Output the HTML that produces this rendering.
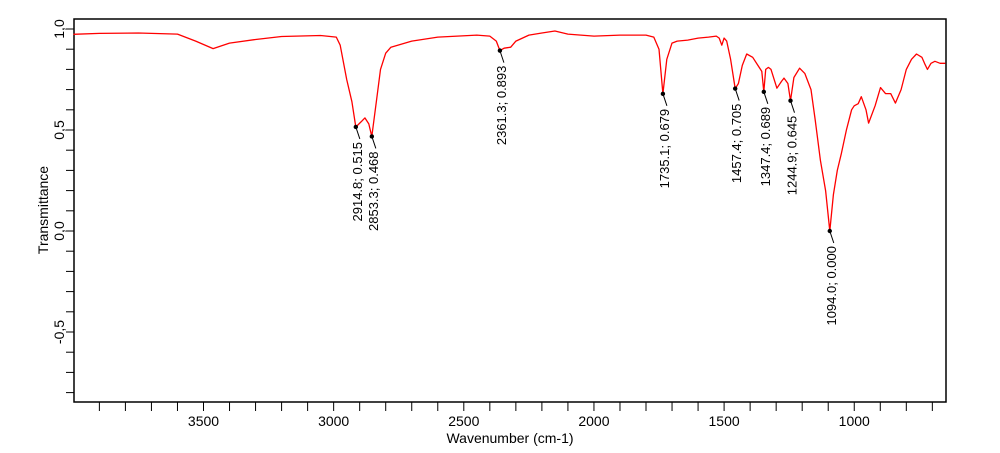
<!DOCTYPE html>
<html><head><meta charset="utf-8"><style>
body{margin:0;background:#fff}
svg{display:block;font-family:"Liberation Sans",sans-serif}
</style></head><body>
<svg id="c" width="1000" height="453"></svg>
<script>
const wavenumbers=[4000,3900,3750,3600,3530,3463,3400,3300,3200,3050,2990,2975,2950,2930,2914.8,2895,2880,2865,2853.3,2835,2820,2800,2780,2700,2600,2450,2400,2375,2361.3,2345,2320,2300,2250,2200,2150,2100,2000,1900,1800,1770,1750,1735.1,1720,1700,1680,1640,1600,1560,1530,1519,1509,1500,1490,1475,1457.4,1445,1430,1413,1390,1370,1355,1347.4,1340,1330,1320,1297,1280,1270,1255,1244.9,1232,1210,1190,1166,1150,1130,1110,1094.0,1080,1065,1050,1030,1010,1000,985,973,955,945,920,899,880,860,842,820,800,780,761,740,730,719,705,690,670,650];
const transmittance=[0.974,0.978,0.98,0.975,0.94,0.903,0.93,0.948,0.963,0.968,0.96,0.92,0.75,0.64,0.515,0.54,0.56,0.53,0.468,0.65,0.8,0.88,0.91,0.94,0.96,0.97,0.965,0.94,0.893,0.905,0.91,0.94,0.97,0.98,0.99,0.975,0.965,0.97,0.97,0.96,0.9,0.679,0.85,0.93,0.94,0.945,0.955,0.96,0.965,0.955,0.92,0.955,0.94,0.85,0.705,0.73,0.82,0.876,0.86,0.82,0.79,0.689,0.8,0.81,0.8,0.707,0.74,0.757,0.73,0.645,0.76,0.806,0.78,0.70,0.55,0.35,0.2,0.0,0.18,0.3,0.38,0.5,0.6,0.62,0.63,0.665,0.6,0.534,0.62,0.71,0.68,0.68,0.633,0.7,0.8,0.85,0.876,0.86,0.83,0.80,0.83,0.84,0.83,0.83];
const peakWn=[2914.8,2853.3,2361.3,1735.1,1457.4,1347.4,1244.9,1094.0];
const peakT=[0.515,0.468,0.893,0.679,0.705,0.689,0.645,0.000];
const yTickLabels=["1,0","0,5","0,0","-0,5"];
const yTickValues=[1,0.5,0,-0.5];
const xTickValues=[3500,3000,2500,2000,1500,1000];

const L=74,R=946,T=19,B=402;
const X=w=>203.5+(3500-w)*0.2603;
const Y=v=>231-202*v;
const svg=document.getElementById('c');
const NS='http://www.w3.org/2000/svg';
function mk(tag,attrs,parent){const e=document.createElementNS(NS,tag);for(const k in attrs)e.setAttribute(k,attrs[k]);(parent||svg).appendChild(e);return e;}

const frame=mk('rect',{x:L,y:T,width:R-L,height:B-T,fill:'none',stroke:'#000','stroke-width':1.5});



for(let i=-8;i<=10;i++){const v=i/10;const y=Y(v);if(y<T||y>B)continue;
 const t=mk('line',{x1:L-8,x2:L,y1:y,y2:y,stroke:'#000','stroke-width':1});
 
 }
yTickValues.forEach((v,i)=>{const y=Y(v);
 const t=mk('text',{x:0,y:0,transform:`translate(64,${y}) rotate(-90)`,'text-anchor':'middle','font-size':14});
 t.textContent=yTickLabels[i];
 
 });
for(let w=3900;w>=700;w-=100){const x=X(w);
 const t=mk('line',{x1:x,x2:x,y1:B,y2:B+9,stroke:'#000','stroke-width':1});
 
 }
xTickValues.forEach(w=>{
 const t=mk('text',{x:X(w),y:426,'text-anchor':'middle','font-size':14});
 t.textContent=String(w);
 
 });
const xt=mk('text',{x:510,y:443,'text-anchor':'middle','font-size':14});
xt.textContent='Wavenumber (cm-1)';


const yt=mk('text',{x:0,y:0,transform:'translate(48,210) rotate(-90)','text-anchor':'middle','font-size':14});
yt.textContent='Transmittance';



const d=wavenumbers.map((w,i)=>(i?'L':'M')+X(w).toFixed(1)+','+Y(transmittance[i]).toFixed(1)).join(' ');
const line=mk('path',{d:d,fill:'none',stroke:'#f00','stroke-width':1.3,'stroke-linejoin':'round'});



peakWn.forEach((w,i)=>{const x=X(w),y=Y(peakT[i]);
 const g=mk('g',{});
 
 
 mk('circle',{cx:x,cy:y,r:2.2,fill:'#000'},g);
 mk('line',{x1:x,y1:y,x2:x+4,y2:y+12,stroke:'#000','stroke-width':1},g);
 const t=mk('text',{x:0,y:0,transform:`translate(${x+6},${y+15}) rotate(-90)`,'text-anchor':'end','font-size':13},g);
 t.textContent=w.toFixed(1)+'; '+peakT[i].toFixed(3);
});
</script>
</body></html>
